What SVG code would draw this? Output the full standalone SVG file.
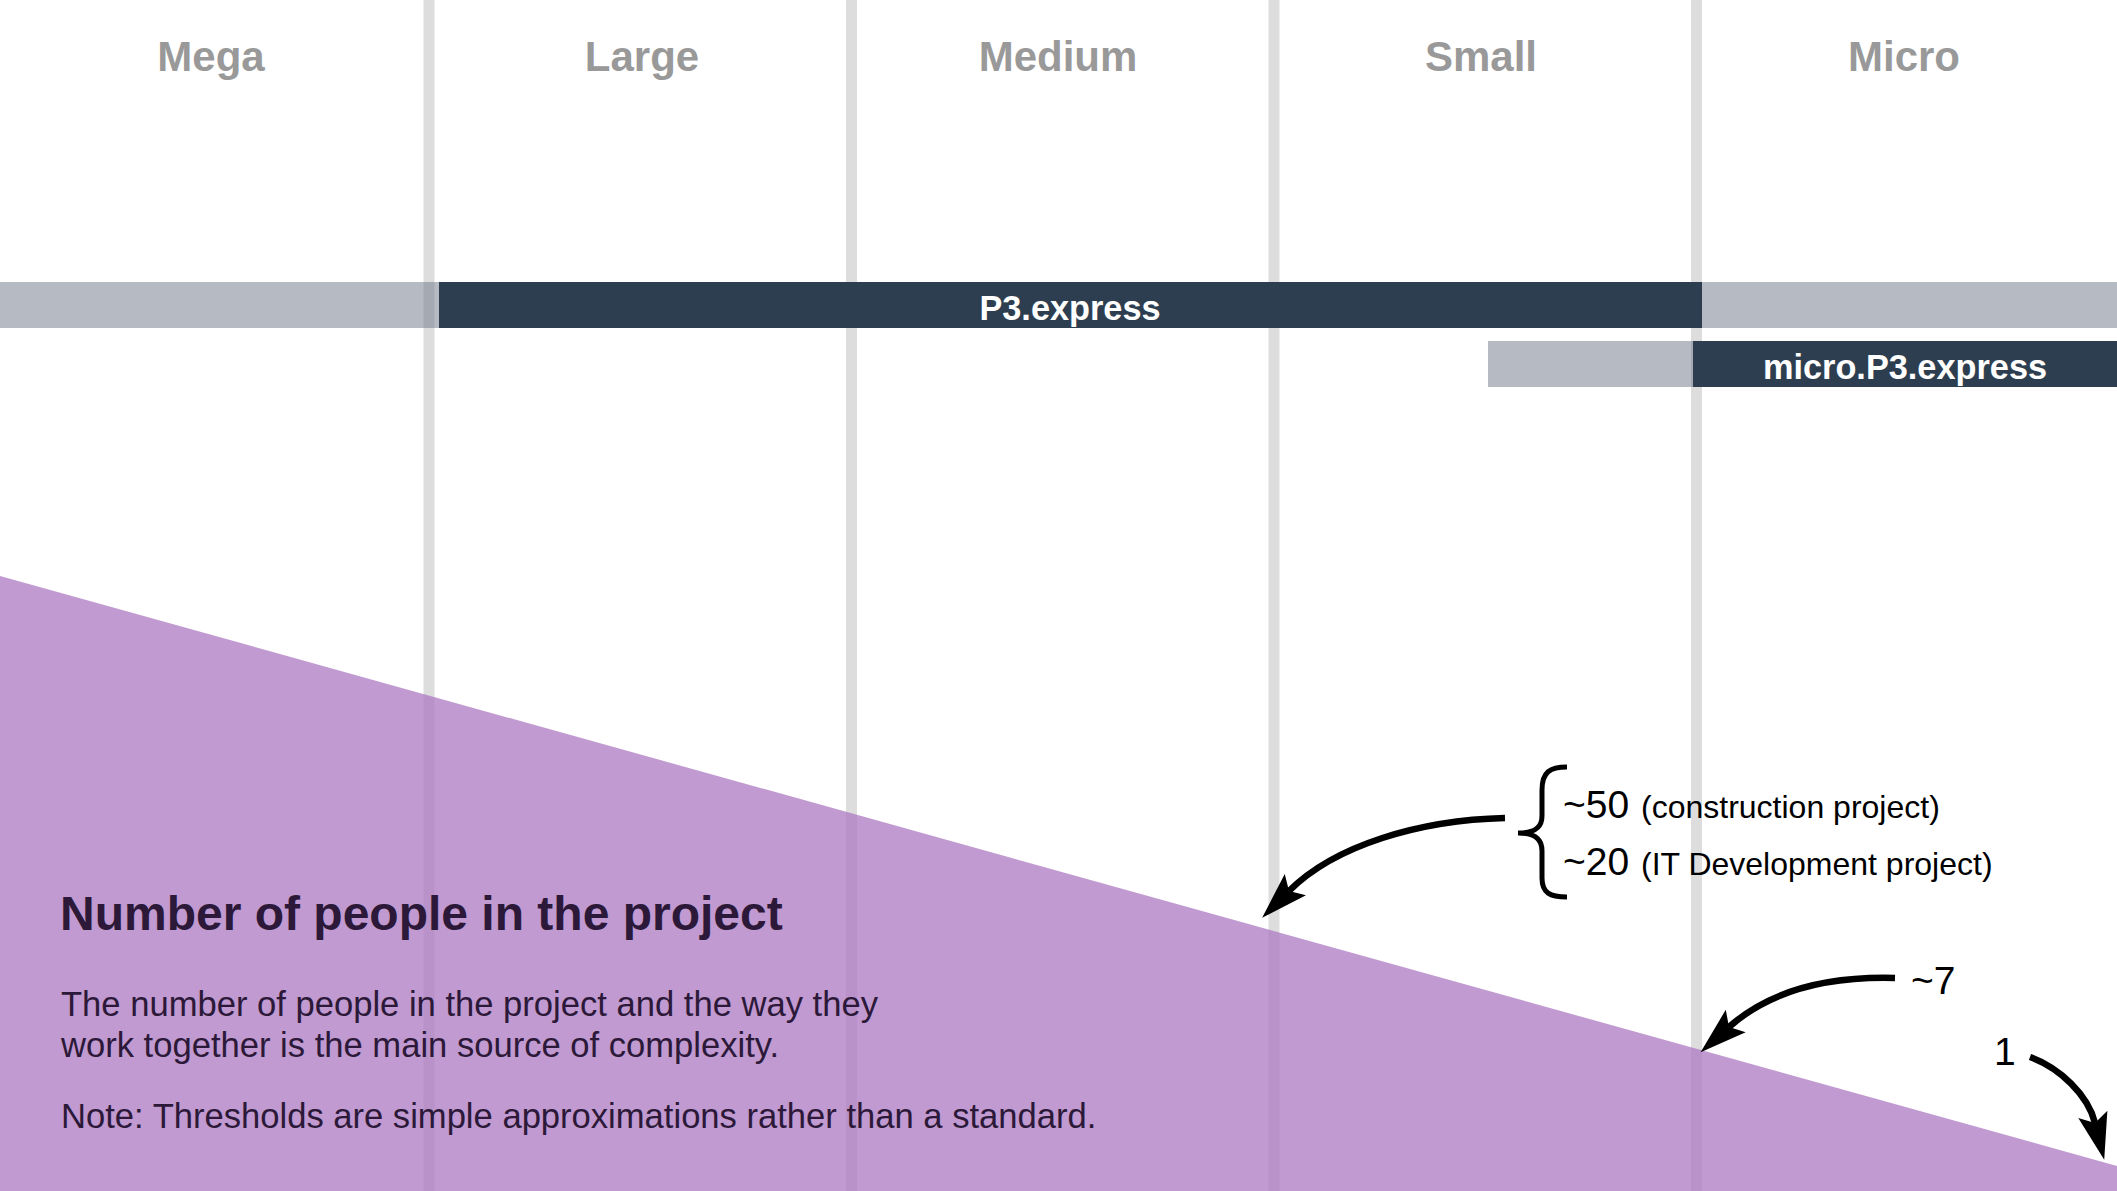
<svg xmlns="http://www.w3.org/2000/svg" width="2117" height="1191" viewBox="0 0 2117 1191">
  <defs>
    <style>
      .hdr { font-family: "Liberation Sans", Arial, sans-serif; font-weight: bold; font-size: 42px; fill: #999999; text-anchor: middle; }
      .vline { fill: #dddddd; }
      .ghost { fill: #6d7585; fill-opacity: 0.5; }
      .bar { fill: #2d3e50; }
      .barlbl { font-family: "Liberation Sans", Arial, sans-serif; font-weight: bold; font-size: 34.3px; fill: #ffffff; text-anchor: middle; }
      .num { font-family: "Liberation Sans", Arial, sans-serif; font-size: 39px; fill: #000000; }
      .note { font-family: "Liberation Sans", Arial, sans-serif; font-size: 32px; fill: #000000; }
      .title { font-family: "Liberation Sans", Arial, sans-serif; font-weight: bold; font-size: 48px; fill: #2c1838; }
      .body { font-family: "Liberation Sans", Arial, sans-serif; font-size: 34.6px; fill: #2c1838; }
      .arrow { fill: none; stroke: #000000; stroke-width: 6.5; }
    </style>
    <marker id="ah" markerUnits="userSpaceOnUse" markerWidth="60" markerHeight="40" refX="9" refY="15" orient="auto" overflow="visible">
      <path d="M47,15 L0,0 L9,15 L0,30 Z" fill="#000000"/>
    </marker>
  </defs>

  <rect x="0" y="0" width="2117" height="1191" fill="#ffffff"/>

  <g id="columns">
    <rect class="vline" x="423.5" y="0" width="11" height="1191"/>
    <rect class="vline" x="846" y="0" width="11" height="1191"/>
    <rect class="vline" x="1268.5" y="0" width="11" height="1191"/>
    <rect class="vline" x="1691" y="0" width="11" height="1191"/>
  </g>

  <g id="headers">
    <text class="hdr" x="211" y="71">Mega</text>
    <text class="hdr" x="642" y="71">Large</text>
    <text class="hdr" x="1058" y="71">Medium</text>
    <text class="hdr" x="1481" y="71">Small</text>
    <text class="hdr" x="1904" y="71">Micro</text>
  </g>

  <g id="p3express">
    <rect class="ghost" x="0" y="282" width="2117" height="46"/>
    <rect class="bar" x="439" y="282" width="1263" height="46"/>
    <text class="barlbl" x="1070" y="320">P3.express</text>
  </g>

  <g id="microp3express">
    <rect class="ghost" x="1488" y="341" width="629" height="46"/>
    <rect class="bar" x="1693" y="341" width="424" height="46"/>
    <text class="barlbl" x="1905" y="379">micro.P3.express</text>
  </g>

  <g id="people-area">
    <polygon points="0,576 2117,1166 2117,1191 0,1191" fill="#ab78c0" fill-opacity="0.75"/>
    <text class="title" x="60" y="930">Number of people in the project</text>
    <text class="body" x="61" y="1016">The number of people in the project and the way they</text>
    <text class="body" x="61" y="1057">work together is the main source of complexity.</text>
    <text class="body" x="61" y="1128">Note: Thresholds are simple approximations rather than a standard.</text>
  </g>

  <g id="label-50-20">
    <path d="M1567,767 C1550,767 1542,772 1542,790 L1542,816 C1542,828 1534,833 1518,833 C1534,833 1542,838 1542,851 L1542,878 C1542,893 1550,897 1567,897" fill="none" stroke="#000000" stroke-width="5"/>
    <text class="num" x="1563" y="818">~50</text>
    <text class="note" x="1641" y="818">(construction project)</text>
    <text class="num" x="1563" y="875">~20</text>
    <text class="note" x="1641" y="875">(IT Development project)</text>
  </g>

  <g id="label-7">
    <text class="num" x="1911" y="994">~7</text>
  </g>

  <g id="label-1">
    <text class="num" x="1994" y="1065">1</text>
  </g>

  <g id="connectors">
    <path class="arrow" d="M1505,818 C1420,820 1335,845 1289,891" marker-end="url(#ah)"/>
    <path class="arrow" d="M1895,978 C1820,976 1765,995 1729,1027" marker-end="url(#ah)"/>
    <path class="arrow" d="M2030,1057 C2060,1068 2088,1095 2095,1123" marker-end="url(#ah)"/>
  </g>
</svg>
